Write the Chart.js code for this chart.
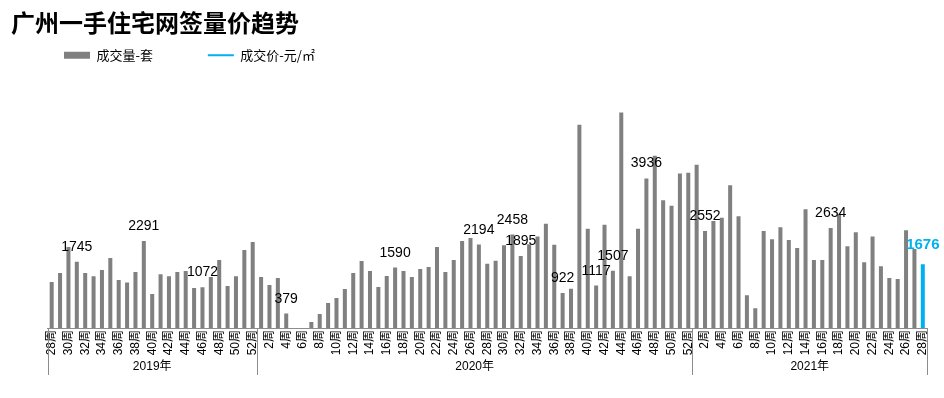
<!DOCTYPE html>
<html><head><meta charset="utf-8">
<script src="https://cdn.jsdelivr.net/npm/chart.js@4"></script>
<style>html,body{margin:0;padding:0;background:#fff}#wrap{width:944px;height:398px;position:relative}</style>
</head><body><div id="wrap"><canvas id="c"></canvas></div>
<script>
// ---- data ----
const titleText = '广州一手住宅网签量价趋势';
const seriesNames = ['成交量-套', '成交价-元/㎡'];
const yearNames = ['2019年', '2020年', '2021年'];
const weeks2019 = [28,29,30,31,32,33,34,35,36,37,38,39,40,41,42,43,44,45,46,47,48,49,50,51,52];
const weeks2020 = [1,2,3,4,5,6,7,8,9,10,11,12,13,14,15,16,17,18,19,20,21,22,23,24,25,26,27,28,29,30,31,32,33,34,35,36,37,38,39,40,41,42,43,44,45,46,47,48,49,50,51,52];
const weeks2021 = [1,2,3,4,5,6,7,8,9,10,11,12,13,14,15,16,17,18,19,20,21,22,23,24,25,26,27,28];
const volume2019 = [1210,1447,2130,1745,1447,1360,1525,1840,1262,1200,1473,2291,894,1412,1360,1473,1500,1052,1072,1341,1788,1105,1360,2051,2262];
const volume2020 = [1341,1131,1315,379,0,0,158,368,658,789,1026,1447,1762,1500,1078,1368,1590,1500,1341,1552,1604,2130,1473,1788,2288,2367,2194,1691,1770,2175,2458,1895,2200,2405,2744,2190,922,1034,5347,2612,1117,2717,1507,5672,1359,2612,3936,4530,3358,3217,4065,4085];
const volume2021 = [4295,2552,2814,2901,3753,2938,860,518,2551,2333,2648,2314,2104,3122,1788,1788,2634,3006,2148,2516,1727,2410,1622,1315,1288,2569,2077,1676];
const priceValues = []; // 成交价 line: not visible in the picture
const labeledBars = [['2019年',31],['2019年',39],['2019年',46],['2020年',4],['2020年',17],['2020年',27],['2020年',31],['2020年',32],['2020年',37],['2020年',41],['2020年',43],['2020年',47],['2021年',2],['2021年',17],['2021年',28]];
const highlightBar = ['2021年',28];

// ---- build ----
const yearWeeks = [weeks2019, weeks2020, weeks2021];
const yearVolumes = [volume2019, volume2020, volume2021];
const weekNums = [], yearOf = [], categories = [], volumes = [];
yearWeeks.forEach((ws, g) => ws.forEach((w, k) => {
  weekNums.push(w); yearOf.push(yearNames[g]); categories.push(w + '周'); volumes.push(yearVolumes[g][k]);
}));
const idxOf = (y, w) => categories.findIndex((c, i) => yearOf[i] === y && weekNums[i] === w);
const labelIndexes = labeledBars.map(p => idxOf(p[0], p[1]));
const highlightIndex = idxOf(highlightBar[0], highlightBar[1]);
const GRAY = '#808080', BLUE = '#00B0F0', AXIS = '#8c8c8c';
const barColors = volumes.map((v, i) => i === highlightIndex ? BLUE : GRAY);
const CJK = '"Liberation Sans","Noto Sans CJK SC",sans-serif';

const legendShift = {
  id: 'legendShift',
  afterLayout(chart) { if (chart.legend) chart.legend.left = 54; }
};
const barLabels = {
  id: 'barLabels',
  afterDatasetsDraw(chart) {
    const meta = chart.getDatasetMeta(0), ctx = chart.ctx;
    ctx.save();
    ctx.textAlign = 'center'; ctx.textBaseline = 'alphabetic';
    labelIndexes.forEach(i => {
      const el = meta.data[i], hi = i === highlightIndex;
      ctx.font = hi ? 'bold 15px "Liberation Sans"' : '14px "Liberation Sans"';
      ctx.fillStyle = hi ? BLUE : '#000';
      ctx.fillText(String(volumes[i]), el.x, el.y - (hi ? 15 : 11));
    });
    ctx.restore();
  }
};
const yearAxis = {
  id: 'yearAxis',
  afterDraw(chart) {
    const xs = chart.scales.x, ctx = chart.ctx;
    const step = xs.getPixelForValue(1) - xs.getPixelForValue(0);
    ctx.save();
    ctx.strokeStyle = AXIS; ctx.lineWidth = 1;
    ctx.fillStyle = '#000'; ctx.font = '12px ' + CJK;
    ctx.textAlign = 'center'; ctx.textBaseline = 'middle';
    let start = 0;
    yearWeeks.forEach((ws, g) => {
      const n = ws.length;
      const x0 = xs.getPixelForValue(start) - step / 2;
      const x1 = xs.getPixelForValue(start + n - 1) + step / 2;
      const lines = g === yearWeeks.length - 1 ? [x0, x1] : [x0];
      lines.forEach(x => {
        const px = Math.round(x) + 0.5;
        ctx.beginPath(); ctx.moveTo(px, xs.top); ctx.lineTo(px, xs.top + 47); ctx.stroke();
      });
      ctx.fillText(yearNames[g], (x0 + x1) / 2, xs.top + 39);
      start += n;
    });
    ctx.restore();
  }
};

new Chart(document.getElementById('c'), {
  data: {
    labels: categories,
    datasets: [
      { type: 'bar', label: seriesNames[0], data: volumes, backgroundColor: barColors, borderWidth: 0,
        barPercentage: 0.5, categoryPercentage: 0.96, pointStyle: 'rect', yAxisID: 'y' },
      { type: 'line', label: seriesNames[1], data: priceValues, borderColor: BLUE, backgroundColor: BLUE,
        borderWidth: 2, pointStyle: 'line', pointRadius: 0, yAxisID: 'y1' }
    ]
  },
  options: {
    responsive: true, maintainAspectRatio: false, animation: false,
    layout: { padding: { left: 11, right: 17, top: 8, bottom: 0 } },
    plugins: {
      title: { display: true, text: titleText, align: 'start', color: '#000',
        font: { family: '"Noto Sans CJK SC",sans-serif', size: 24, weight: 'bold' }, padding: { top: 0, bottom: 2 } },
      legend: { display: true, position: 'top', align: 'start',
        labels: { usePointStyle: true, pointStyleWidth: 26, boxHeight: 7, padding: 10, color: '#000',
          font: { family: '"Noto Sans CJK SC",sans-serif', size: 13 },
          generateLabels(chart) {
            const items = Chart.defaults.plugins.legend.labels.generateLabels(chart);
            items.forEach(it => {
              if (it.datasetIndex === 0) {
                it.text = it.text + '\u3000\u3000\u3000  ';
                it.fillStyle = GRAY; it.strokeStyle = GRAY; it.lineWidth = 0;
              } else {
                it.strokeStyle = BLUE; it.lineWidth = 2;
              }
            });
            return items.sort((a, b) => a.datasetIndex - b.datasetIndex);
          } } },
      tooltip: { enabled: false }
    },
    scales: {
      x: { type: 'category', offset: true,
        grid: { display: false, drawTicks: false },
        border: { display: true, color: AXIS, width: 1 },
        ticks: { autoSkip: false, minRotation: 90, maxRotation: 90, padding: 2, color: '#000',
          font: { family: CJK, size: 12 },
          callback(v, i) { return weekNums[i] % 2 === 0 ? categories[i] : ''; } },
        afterFit(s) { s.height = 70; } },
      y: { min: 0, max: 6740, display: true,
        grid: { display: false }, border: { display: false }, ticks: { display: false },
        afterFit(s) { s.width = 36.5; } },
      y1: { display: false, position: 'right', grid: { display: false } }
    }
  },
  plugins: [legendShift, barLabels, yearAxis]
});
</script>
</body></html>
